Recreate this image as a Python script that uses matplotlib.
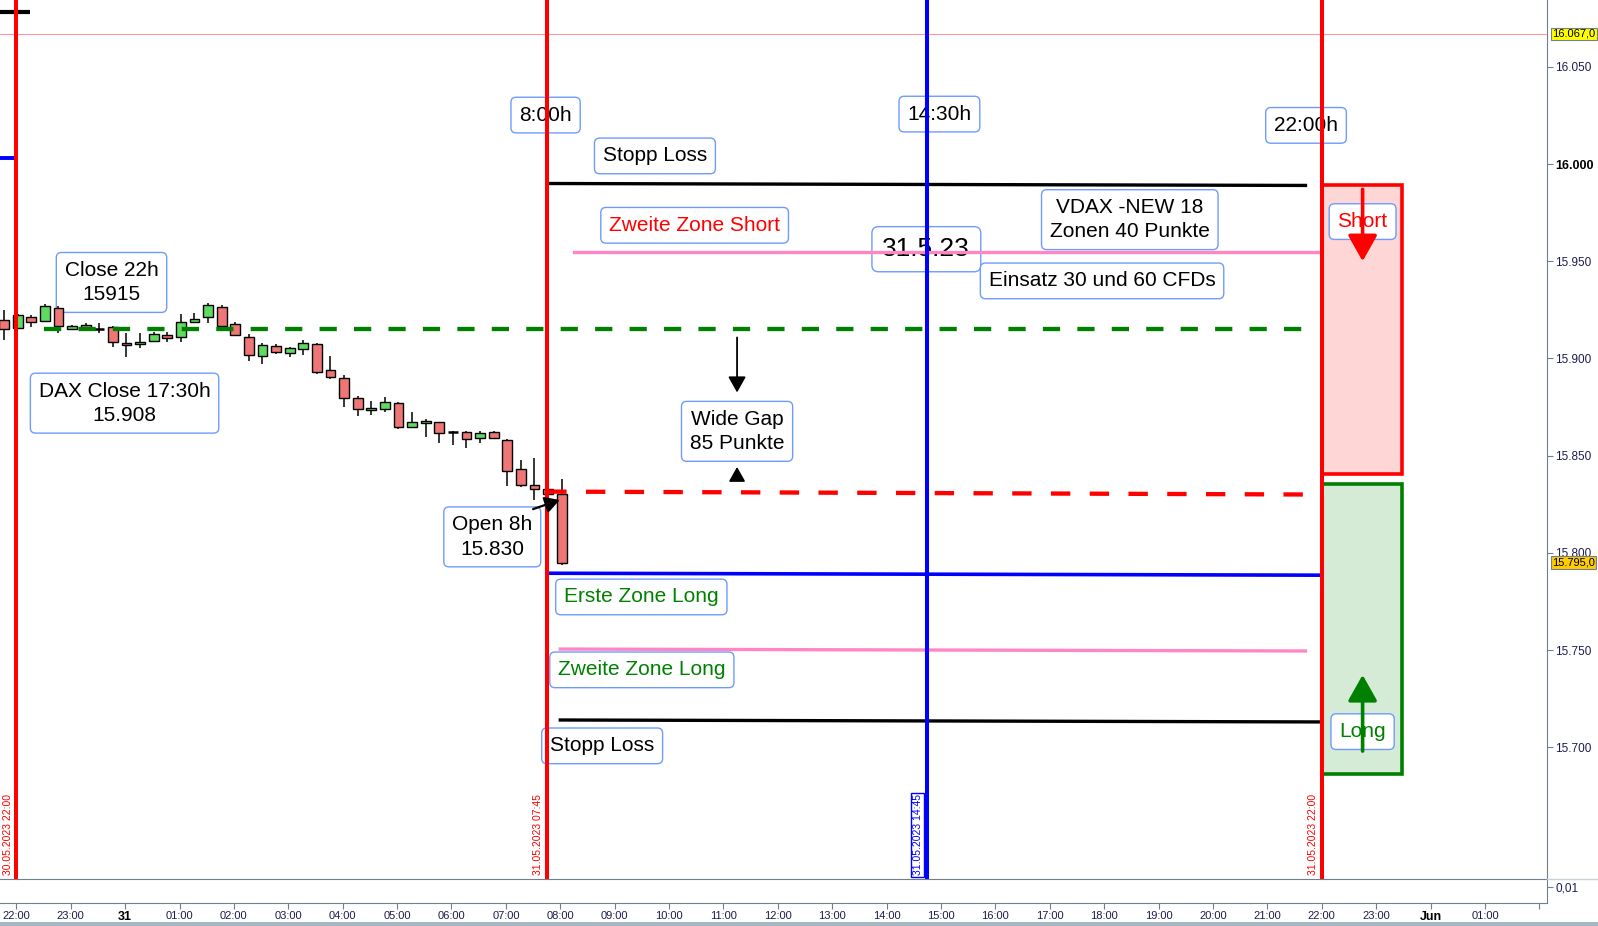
import matplotlib.pyplot as plt
from matplotlib.patches import Rectangle, FancyArrowPatch
from matplotlib.lines import Line2D
import matplotlib.transforms as mtransforms

plt.rcParams['font.family'] = ['Liberation Sans', 'DejaVu Sans']

# DAX 15-Minuten-Kerzen, 30.05.2023 21:45 bis 31.05.2023 08:00
bar_times = ['30.05. 21:45', '30.05. 22:00', '30.05. 22:15', '30.05. 22:30', '30.05. 22:45',
             '30.05. 23:00', '30.05. 23:15', '30.05. 23:30', '30.05. 23:45',
             '31.05. 00:00', '31.05. 00:15', '31.05. 00:30', '31.05. 00:45',
             '31.05. 01:00', '31.05. 01:15', '31.05. 01:30', '31.05. 01:45',
             '31.05. 02:00', '31.05. 02:15', '31.05. 02:30', '31.05. 02:45',
             '31.05. 03:00', '31.05. 03:15', '31.05. 03:30', '31.05. 03:45',
             '31.05. 04:00', '31.05. 04:15', '31.05. 04:30', '31.05. 04:45',
             '31.05. 05:00', '31.05. 05:15', '31.05. 05:30', '31.05. 05:45',
             '31.05. 06:00', '31.05. 06:15', '31.05. 06:30', '31.05. 06:45',
             '31.05. 07:00', '31.05. 07:15', '31.05. 07:30', '31.05. 07:45',
             '31.05. 08:00']
opens = [15919.8, 15915.5, 15921.1, 15919.1, 15925.8, 15915.1, 15917.2, 15915.1, 15916.0,
         15908.1, 15907.3, 15909.1, 15912.0, 15910.9, 15918.6, 15921.1, 15926.6, 15917.7,
         15910.9, 15901.2, 15906.4, 15902.6, 15904.7, 15907.4, 15894.0, 15889.8, 15879.5,
         15873.3, 15873.8, 15876.9, 15864.6, 15866.8, 15867.1, 15862.3, 15862.1, 15858.9,
         15862.1, 15858.0, 15843.0, 15834.9, 15833.0, 15830.2]
highs = [15924.9, 15923.0, 15922.3, 15928.0, 15927.0, 15917.0, 15918.0, 15918.4, 15916.5,
         15912.9, 15913.2, 15913.5, 15913.7, 15922.7, 15923.2, 15928.3, 15927.5, 15918.9,
         15912.6, 15908.1, 15907.4, 15906.0, 15909.5, 15908.0, 15901.4, 15891.5, 15880.7,
         15878.1, 15880.0, 15877.7, 15872.4, 15868.7, 15867.5, 15862.6, 15862.7, 15862.7,
         15862.7, 15858.5, 15847.7, 15848.8, 15834.0, 15837.8]
lows = [15909.5, 15915.0, 15916.3, 15918.5, 15913.2, 15914.8, 15914.5, 15912.9, 15906.0,
        15900.9, 15905.2, 15908.5, 15908.6, 15908.6, 15918.1, 15918.1, 15916.0, 15911.5,
        15898.8, 15897.0, 15902.1, 15900.6, 15901.7, 15891.8, 15889.2, 15875.2, 15870.4,
        15871.0, 15872.6, 15863.8, 15864.6, 15859.7, 15856.6, 15855.5, 15854.1, 15856.6,
        15858.4, 15834.5, 15834.0, 15827.2, 15829.5, 15793.7]
closes = [15915.0, 15922.3, 15918.6, 15927.0, 15916.7, 15916.5, 15915.5, 15915.1, 15908.3,
          15906.7, 15908.6, 15912.6, 15910.3, 15918.9, 15920.1, 15927.5, 15916.7, 15912.0,
          15901.7, 15906.9, 15903.1, 15905.2, 15907.8, 15893.2, 15890.3, 15879.5, 15873.8,
          15874.3, 15877.6, 15864.9, 15867.1, 15868.0, 15861.5, 15862.3, 15858.4, 15861.5,
          15858.9, 15842.3, 15835.0, 15832.7, 15830.5, 15794.6]

# Zeitmarken (senkrechte Linien)
marker_times = ['30.05. 22:00', '31.05. 07:45', '31.05. 14:45', '31.05. 22:00']
marker_colors = ['red', 'red', 'blue', 'red']

# Kursniveaus
close_22h = 15915
open_8h = 15830
stop_short = 15990
zone2_short = 15955
zone1_long = 15789
zone2_long = 15750
stop_long = 15713.5
last_price = 15795.0
top_level = 16067.0

price_ticks = [15700, 15750, 15800, 15850, 15900, 15950, 16000, 16050]
hour_labels = ['22:00', '23:00', '31', '01:00', '02:00', '03:00', '04:00', '05:00', '06:00',
               '07:00', '08:00', '09:00', '10:00', '11:00', '12:00', '13:00', '14:00', '15:00',
               '16:00', '17:00', '18:00', '19:00', '20:00', '21:00', '22:00', '23:00', 'Jun',
               '01:00', '']


def to_h(s):
    d, t = s.split()
    day = int(d.split('.')[0])
    hh, mm = t.split(':')
    return (day - 30) * 24 + int(hh) + int(mm) / 60 - 22


W, H = 1598, 926
fig = plt.figure(figsize=(W / 100, H / 100), dpi=100)
ax = fig.add_axes([0, (H - 879) / H, 1547 / W, 879 / H])
ax2 = fig.add_axes([0, (H - 903) / H, 1547 / W, 24 / H])

ax.set_xlim(-0.30, 28.14)
ax.set_ylim(15632.2, 16084.4)
ax2.set_xlim(-0.30, 28.14)
ax2.set_ylim(0, 1)

# Kerzen
for t, o, hi, lo, c in zip(bar_times, opens, highs, lows, closes):
    x = to_h(t) + 0.025
    ax.vlines(x, lo, hi, color='black', lw=1.1, zorder=3)
    if abs(c - o) < 0.05:
        ax.hlines(o, x - 0.09, x + 0.09, color='black', lw=1.8, zorder=3.1)
        continue
    col = '#5fdc5f' if c > o else '#ef7676'
    ax.bar(x, c - o, bottom=o, width=0.18, color=col, edgecolor='black', lw=1, zorder=3.1)

# obere Hilfslinie
ax.axhline(top_level, color='#ff9a9a', lw=0.8, zorder=2)
ax.plot([-0.3, 0.25], [16078, 16078], color='black', lw=3, solid_capstyle='butt', zorder=4)
ax.plot([-0.3, 0.0], [16003, 16003], color='blue', lw=2.8, solid_capstyle='butt', zorder=4)

# Zonen-Linien
ax.plot([9.76, 23.7], [stop_short, stop_short - 1], color='black', lw=2.4, zorder=4)
ax.plot([10.26, 24.0], [zone2_short, zone2_short], color='#ff86c4', lw=2.4, zorder=4)
ax.plot([0.51, 23.74], [close_22h, close_22h], color='#008000', lw=3.1,
        dashes=(4, 4), dash_capstyle='butt', zorder=4)
ax.plot([9.76, 23.74], [open_8h + 1.5, open_8h], color='red', lw=3.1,
        dashes=(4.5, 4.5), dash_capstyle='butt', zorder=4)
ax.plot([9.76, 24.0], [zone1_long + 0.5, zone1_long - 0.5], color='blue', lw=2.6, zorder=4)
ax.plot([10.0, 23.7], [zone2_long + 0.5, zone2_long - 0.5], color='#ff86c4', lw=2.4, zorder=4)
ax.plot([10.0, 24.0], [stop_long + 0.5, stop_long - 0.5], color='black', lw=2.4, zorder=4)

# Short / Long Kästen
ax.add_patch(Rectangle((24, 15840.5), 1.47, 148.7, facecolor='#ffd6d6',
                       edgecolor='red', lw=2.6, zorder=2))
ax.add_patch(Rectangle((24, 15686.2), 1.47, 149.2, facecolor='#d6ebd6',
                       edgecolor='#008000', lw=2.6, zorder=2))

# senkrechte Zeitlinien
for t, col in zip(marker_times, marker_colors):
    ax.axvline(to_h(t), color=col, lw=2.9, zorder=5)

box = dict(boxstyle='round,pad=0.4,rounding_size=0.25', fc='white', ec='#6e9bff', lw=1)
labels = [
    ('8:00h', 9.73, 16025.2, 'black', 15),
    ('14:30h', 16.97, 16025.7, 'black', 15),
    ('22:00h', 23.71, 16019.9, 'black', 15),
    ('Stopp Loss', 11.74, 16004.2, 'black', 15),
    ('Zweite Zone Short', 12.47, 15968.5, 'red', 15),
    ('31.5.23', 16.73, 15956.2, 'black', 19),
    ('VDAX -NEW 18\nZonen 40 Punkte', 20.47, 15971.4, 'black', 15),
    ('Einsatz 30 und 60 CFDs', 19.96, 15939.9, 'black', 15),
    ('Close 22h\n15915', 1.75, 15939.1, 'black', 15),
    ('DAX Close 17:30h\n15.908', 1.99, 15877.0, 'black', 15),
    ('Wide Gap\n85 Punkte', 13.25, 15862.5, 'black', 15),
    ('Open 8h\n15.830', 8.75, 15808.2, 'black', 15),
    ('Erste Zone Long', 11.49, 15777.3, '#008000', 15),
    ('Zweite Zone Long', 11.50, 15739.8, '#008000', 15),
    ('Stopp Loss', 10.77, 15700.7, 'black', 15),
    ('Short', 24.75, 15970.4, 'red', 15),
    ('Long', 24.75, 15708.0, '#008000', 15),
]
for txt, x, y, col, fs in labels:
    ax.text(x, y, txt, ha='center', va='center', color=col, fontsize=fs,
            multialignment='center', linespacing=1.35, bbox=box, zorder=2.5)

# Pfeile
def arrow(p0, p1, col, lw, scale):
    ax.add_patch(FancyArrowPatch(p0, p1, arrowstyle='-|>,head_length=0.8,head_width=0.45',
                                 mutation_scale=scale, color=col, lw=lw,
                                 shrinkA=0, shrinkB=0, zorder=6))

arrow((24.75, 15987), (24.75, 15950), 'red', 2.6, 20)
arrow((24.75, 15698), (24.75, 15737.2), '#008000', 2.6, 20)
arrow((13.25, 15910.8), (13.25, 15882.5), 'black', 1.3, 12)
arrow((13.25, 15837.4), (13.25, 15844.2), 'black', 1.3, 11)
arrow((9.5, 15822.5), (9.99, 15827.2), 'black', 1.6, 11)

# senkrechte Datumsbeschriftungen
trans = mtransforms.blended_transform_factory(ax.transData, ax.transAxes)
date_labels = [('30.05.2023 22:00', -0.15, 'red'), ('31.05.2023 07:45', 9.59, 'red'),
               ('31.05.2023 14:45', 16.57, 'blue'), ('31.05.2023 22:00', 23.84, 'red')]
for txt, x, col in date_labels:
    kw = {}
    if col == 'blue':
        kw['bbox'] = dict(boxstyle='square,pad=0.15', fc='white', ec='blue', lw=1)
    ax.text(x, 0.004, txt, rotation=90, ha='center', va='bottom', color=col,
            fontsize=7.5, transform=trans, zorder=6, **kw)

# rechte Preisachse
ax.yaxis.tick_right()
ax.set_yticks(price_ticks)
ax.set_yticklabels([f'{p / 1000:.3f}' for p in price_ticks])
ax.tick_params(axis='y', direction='out', length=4, width=0.8, color='#6f7f8f',
               labelsize=8.5, labelcolor='#1c1c50', pad=2)
for lab in ax.get_yticklabels():
    if lab.get_text() == '16.000':
        lab.set_fontweight('bold')
        lab.set_fontsize(9)
        lab.set_color('black')
ax.set_xticks([])
for s in ['top', 'left', 'bottom']:
    ax.spines[s].set_visible(False)
ax.spines['right'].set_color('#6f7f8f')

ytrans = mtransforms.blended_transform_factory(ax.transAxes, ax.transData)
ax.text(1.0035, top_level, '16.067,0', transform=ytrans, ha='left', va='center',
        fontsize=8, clip_on=False, zorder=7,
        bbox=dict(boxstyle='square,pad=0.1', fc='#ffff00', ec='#708090', lw=0.8))
ax.text(1.0035, last_price, '15.795,0', transform=ytrans, ha='left', va='center',
        fontsize=8, clip_on=False, zorder=7,
        bbox=dict(boxstyle='square,pad=0.1', fc='#ffcc00', ec='#708090', lw=0.8))

# unteres Feld mit Zeitachse
hours = list(range(len(hour_labels)))
ax2.set_xticks(hours)
ax2.set_xticklabels(hour_labels)
ax2.tick_params(axis='x', direction='out', length=4, width=0.8, color='#6f7f8f',
                labelsize=8, labelcolor='#1c1c50', pad=1.5)
for lab in ax2.get_xticklabels():
    if lab.get_text() in ('31', 'Jun'):
        lab.set_fontweight('bold')
        lab.set_fontsize(9)
        lab.set_color('black')
ax2.yaxis.tick_right()
ax2.set_yticks([0.67])
ax2.set_yticklabels(['0,01'])
ax2.tick_params(axis='y', direction='out', length=4, width=0.8, color='#6f7f8f',
                labelsize=8.5, labelcolor='#1c1c50', pad=2)
ax2.spines['left'].set_visible(False)
for s in ['top', 'bottom', 'right']:
    ax2.spines[s].set_color('#6f7f8f')

fig.add_artist(Line2D([1547 / W, 1], [(H - 879) / H] * 2, color='#c8d0d8', lw=1))
fig.add_artist(Rectangle((0, 0), 1, 4.5 / H, transform=fig.transFigure,
                         facecolor='#a3b8c2', edgecolor='none'))

fig.savefig('out.png', dpi=100)
